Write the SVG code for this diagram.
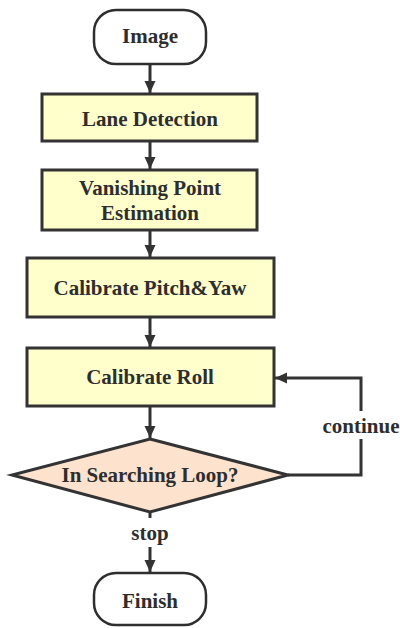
<svg xmlns="http://www.w3.org/2000/svg" width="400" height="628" viewBox="0 0 400 628">
<defs>
<style>
.t{font-family:"Liberation Serif","Times New Roman",serif;font-weight:bold;font-size:21px;fill:#2e2e2e;text-anchor:middle}
.term{fill:#ffffff;stroke:#2e2e2e;stroke-width:2.5}
.proc{fill:#ffffcc;stroke:#333333;stroke-width:3}
.dec{fill:#fde3cd;stroke:#333333;stroke-width:3}
.ln{fill:none;stroke:#333333;stroke-width:3}
</style>
<marker id="ah" viewBox="0 0 12 12" refX="12" refY="6" markerWidth="12" markerHeight="12" markerUnits="userSpaceOnUse" orient="auto">
<path d="M0,0.5 L12,6 L0,11.5 Z" fill="#333333"/>
</marker>
</defs>
<rect width="400" height="628" fill="#ffffff"/>
<g id="connectors">
<line class="ln" x1="150" y1="64" x2="150" y2="93" marker-end="url(#ah)"/>
<line class="ln" x1="150" y1="141" x2="150" y2="169" marker-end="url(#ah)"/>
<line class="ln" x1="150" y1="230" x2="150" y2="257" marker-end="url(#ah)"/>
<line class="ln" x1="150" y1="317" x2="150" y2="347" marker-end="url(#ah)"/>
<line class="ln" x1="150" y1="406" x2="150" y2="438" marker-end="url(#ah)"/>
<polyline class="ln" points="288,475 361,475 361,439"/>
<polyline class="ln" points="361,411 361,378 275,378" marker-end="url(#ah)"/>
<line class="ln" x1="150" y1="512" x2="150" y2="518"/>
<line class="ln" x1="150" y1="547" x2="150" y2="572" marker-end="url(#ah)"/>
<text class="t" x="361" y="433">continue</text>
<text class="t" x="150" y="540">stop</text>
</g>
<g id="image">
<rect class="term" x="94" y="10" width="112" height="54" rx="22"/>
<text class="t" x="150" y="43">Image</text>
</g>
<g id="lane">
<rect class="proc" x="42" y="94" width="215" height="47"/>
<text class="t" x="150" y="126">Lane Detection</text>
</g>
<g id="vp">
<rect class="proc" x="42" y="170" width="215" height="60"/>
<text class="t" x="150" y="195">Vanishing Point</text>
<text class="t" x="150" y="220">Estimation</text>
</g>
<g id="pitch">
<rect class="proc" x="27" y="258" width="247" height="59"/>
<text class="t" x="150" y="295">Calibrate Pitch&amp;Yaw</text>
</g>
<g id="roll">
<rect class="proc" x="27" y="348" width="247" height="58"/>
<text class="t" x="150" y="384">Calibrate Roll</text>
</g>
<g id="loop">
<polygon class="dec" points="150,439 288,475 150,512 12,475"/>
<text class="t" x="150" y="482">In Searching Loop?</text>
</g>
<g id="finish">
<rect class="term" x="94" y="573" width="112" height="52" rx="22"/>
<text class="t" x="150" y="608">Finish</text>
</g>
</svg>
